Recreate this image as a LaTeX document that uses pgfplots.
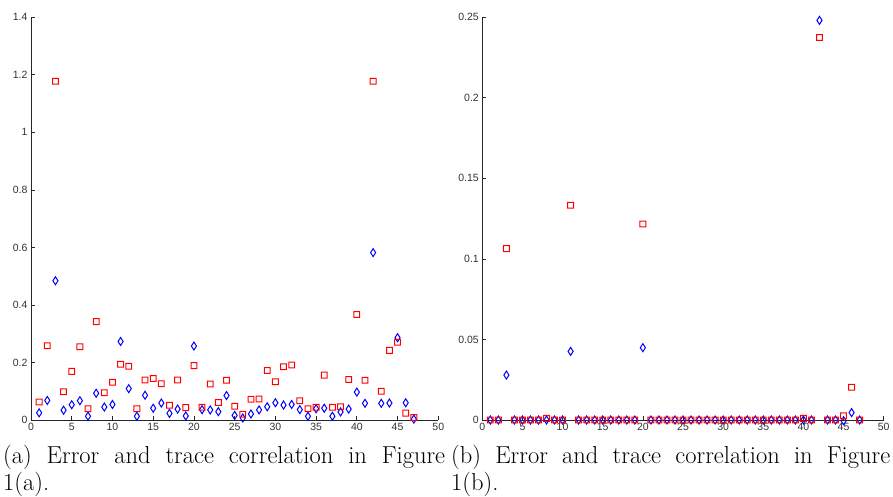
\documentclass[border=0pt]{standalone}
\usepackage{fontspec}
\usepackage{pgfplots}
\usepackage{pgfplotstable}
\pgfplotsset{compat=1.18}
\newfontfamily\ticksans{Liberation Sans}

\pgfdeclareplotmark{msq}{%
  \pgfseteorule
  \pgfsetfillcolor{red}%
  \pgfpathrectanglecorners{\pgfqpoint{-3.4pt}{-3.4pt}}{\pgfqpoint{3.4pt}{3.4pt}}%
  \pgfpathrectanglecorners{\pgfqpoint{-2.4pt}{-2.4pt}}{\pgfqpoint{2.4pt}{2.4pt}}%
  \pgfusepathqfill}
\pgfdeclareplotmark{mdia}{%
  \pgfsetstrokecolor{blue}%
  \pgfsetlinewidth{1.0pt}%
  \pgfpathmoveto{\pgfqpoint{0pt}{\pgfplotmarksize}}%
  \pgfpathlineto{\pgfqpoint{0.64\pgfplotmarksize}{0pt}}%
  \pgfpathlineto{\pgfqpoint{0pt}{-\pgfplotmarksize}}%
  \pgfpathlineto{\pgfqpoint{-0.64\pgfplotmarksize}{0pt}}%
  \pgfpathclose
  \pgfusepathqstroke}

\pgfplotstableread{
x redv bluev
1 0.0626 0.025
2 0.258 0.068
3 1.178 0.484
4 0.0985 0.034
5 0.169 0.053
6 0.255 0.067
7 0.039 0.013
8 0.342 0.093
9 0.095 0.045
10 0.131 0.054
11 0.194 0.273
12 0.187 0.109
13 0.039 0.013
14 0.139 0.086
15 0.144 0.041
16 0.126 0.059
17 0.051 0.023
18 0.139 0.038
19 0.043 0.014
20 0.189 0.257
21 0.044 0.036
22 0.125 0.035
23 0.061 0.029
24 0.138 0.085
25 0.048 0.016
26 0.020 0.007
27 0.072 0.021
28 0.073 0.035
29 0.172 0.046
30 0.133 0.060
31 0.185 0.052
32 0.191 0.054
33 0.067 0.036
34 0.039 0.013
35 0.044 0.039
36 0.156 0.041
37 0.044 0.013
38 0.046 0.028
39 0.141 0.038
40 0.367 0.097
41 0.138 0.058
42 1.178 0.582
43 0.100 0.058
44 0.242 0.059
45 0.270 0.286
46 0.024 0.060
47 0.009 0.003
}\dataA

\pgfplotstableread{
x redv bluev
1 0 0
2 0 0
3 0.1064 0.0279
4 0 0
5 0 0
6 0 0
7 0 0
8 0.001 0
9 0 0
10 0 0
11 0.1333 0.0426
12 0 0
13 0 0
14 0 0
15 0 0
16 0 0
17 0 0
18 0 0
19 0 0
20 0.1217 0.0449
21 0 0
22 0 0
23 0 0
24 0 0
25 0 0
26 0 0
27 0 0
28 0 0
29 0 0
30 0 0
31 0 0
32 0 0
33 0 0
34 0 0
35 0 0
36 0 0
37 0 0
38 0 0
39 0 0
40 0.001 0
41 0 0
42 0.2374 0.2481
43 0 0
44 0 0
45 0.0027 -0.0005
46 0.0203 0.0046
47 0 0
}\dataB

\pgfplotsset{
  mlstyle/.style={
    scale only axis,
    anchor=south west,
    xmin=0, xmax=50, ymin=0,
    axis x line=bottom, axis y line=left,
    axis line style={-, line width=0.7pt, black!85},
    tick align=inside, major tick length=4pt,
    tick style={line width=0.7pt, black!85},
    xtick={0,5,10,15,20,25,30,35,40,45,50},
    ticklabel style={font=\ticksans\fontsize{10.5}{12}\selectfont, text=black!80},
    /pgf/number format/assume math mode=true,
    clip=false,
  },
  bluem/.style={only marks, draw=blue, mark=mdia, mark size=4pt, mark options={solid}},
  redm/.style={only marks, fill=red, draw=red, mark=msq, mark size=2.9pt, mark options={solid}},
}

\begin{document}
\begin{tikzpicture}[x=1pt,y=1pt]
\useasboundingbox (0,0) rectangle (893,496);
\begin{axis}[mlstyle, at={(31pt,76pt)}, width=407.3pt, height=402.7pt,
  ymax=1.4, ytick={0,0.2,0.4,0.6,0.8,1,1.2,1.4},
  yticklabels={0,0.2,0.4,0.6,0.8,1,1.2,1.4}]
\addplot[bluem] table[x=x, y=bluev] {\dataA};
\addplot[redm] table[x=x, y=redv] {\dataA};
\end{axis}
\begin{axis}[mlstyle, at={(482.3pt,76pt)}, width=401.4pt, height=402.7pt,
  ymax=0.25, ytick={0,0.05,0.1,0.15,0.2,0.25},
  yticklabels={0,0.05,0.1,0.15,0.2,0.25}]
\addplot[bluem] table[x=x, y=bluev] {\dataB};
\addplot[redm] table[x=x, y=redv] {\dataB};
\end{axis}
\begin{scope}[every node/.style={inner sep=0pt, anchor=base west, font=\fontsize{24.5}{29}\selectfont}]
\node at (3,33) {\makebox[442pt][s]{(a) Error and trace correlation in Figure}};
\node at (3,6) {1(a).};
\node at (451,33) {\makebox[439pt][s]{(b) Error and trace correlation in Figure}};
\node at (451,6) {1(b).};
\end{scope}
\end{tikzpicture}
\end{document}
